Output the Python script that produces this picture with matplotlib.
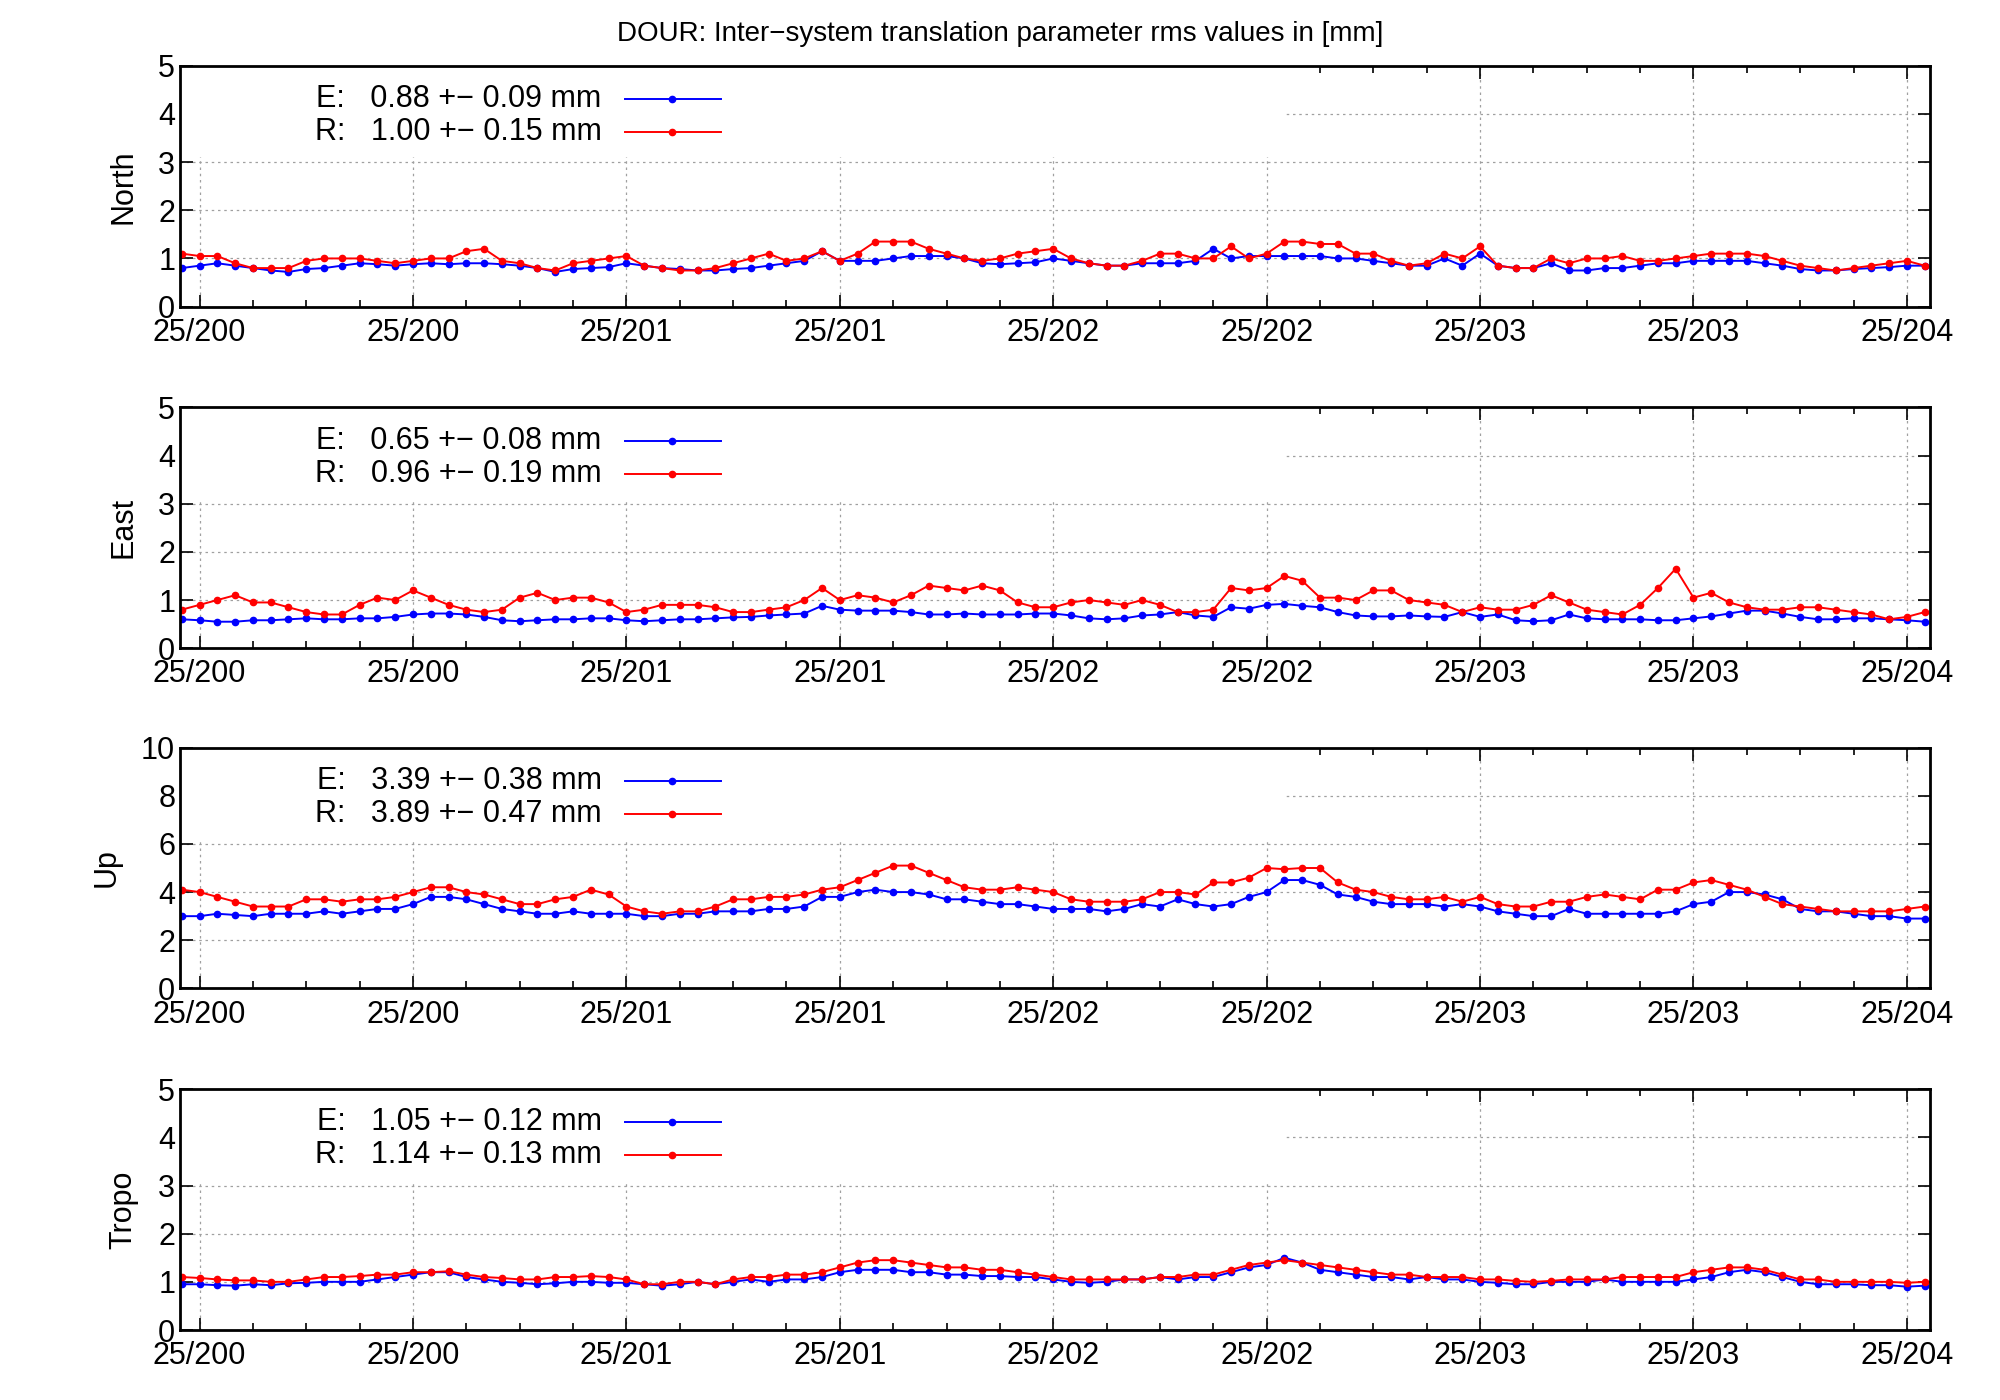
import matplotlib

matplotlib.use("Agg")
import matplotlib.pyplot as plt
import numpy as np
from matplotlib.patches import Rectangle

plt.rcParams["font.family"] = "Liberation Sans"

TITLE = "DOUR: Inter\u2212system translation parameter rms values in [mm]"
TICK_LABELS = ["25/200", "25/200", "25/201", "25/201", "25/202", "25/202", "25/203", "25/203", "25/204"]
PANELS = ["North", "East", "Up", "Tropo"]
YMAX = [5, 5, 10, 5]
STATS_E = ["0.88 +\u2212 0.09", "0.65 +\u2212 0.08", "3.39 +\u2212 0.38", "1.05 +\u2212 0.12"]
STATS_R = ["1.00 +\u2212 0.15", "0.96 +\u2212 0.19", "3.89 +\u2212 0.47", "1.14 +\u2212 0.13"]

north_e = [0.8, 0.85, 0.9, 0.85, 0.8, 0.75, 0.72, 0.78, 0.8, 0.85, 0.9, 0.88, 0.85,
           0.88, 0.9, 0.88, 0.9, 0.9, 0.88, 0.85, 0.8, 0.72, 0.78, 0.8, 0.82,
           0.9, 0.85, 0.8, 0.78, 0.75, 0.75, 0.78, 0.8, 0.85, 0.9, 0.95, 1.15,
           0.95, 0.95, 0.95, 1.0, 1.05, 1.05, 1.05, 1.0, 0.9, 0.88, 0.9, 0.92,
           1.0, 0.95, 0.9, 0.85, 0.85, 0.9, 0.9, 0.9, 0.95, 1.2, 1.0, 1.05,
           1.05, 1.05, 1.05, 1.05, 1.0, 1.0, 0.95, 0.9, 0.85, 0.85, 1.0, 0.85,
           1.1, 0.85, 0.8, 0.8, 0.9, 0.75, 0.75, 0.8, 0.8, 0.85, 0.9, 0.9,
           0.95, 0.95, 0.95, 0.95, 0.9, 0.85, 0.78, 0.75, 0.75, 0.78, 0.8, 0.82,
           0.85, 0.85]
north_r = [1.1, 1.05, 1.05, 0.9, 0.8, 0.8, 0.8, 0.95, 1.0, 1.0, 1.0, 0.95, 0.9,
           0.95, 1.0, 1.0, 1.15, 1.2, 0.95, 0.9, 0.8, 0.75, 0.9, 0.95, 1.0,
           1.05, 0.85, 0.8, 0.75, 0.75, 0.8, 0.9, 1.0, 1.1, 0.95, 1.0, 1.15,
           0.95, 1.1, 1.35, 1.35, 1.35, 1.2, 1.1, 1.0, 0.95, 1.0, 1.1, 1.15,
           1.2, 1.0, 0.9, 0.85, 0.85, 0.95, 1.1, 1.1, 1.0, 1.0, 1.25, 1.0,
           1.1, 1.35, 1.35, 1.3, 1.3, 1.1, 1.1, 0.95, 0.85, 0.9, 1.1, 1.0,
           1.25, 0.85, 0.8, 0.8, 1.0, 0.9, 1.0, 1.0, 1.05, 0.95, 0.95, 1.0,
           1.05, 1.1, 1.1, 1.1, 1.05, 0.95, 0.85, 0.8, 0.75, 0.8, 0.85, 0.9,
           0.95, 0.85]
east_e = [0.6, 0.58, 0.55, 0.55, 0.58, 0.58, 0.6, 0.62, 0.6, 0.6, 0.62, 0.62, 0.65,
          0.7, 0.72, 0.72, 0.7, 0.65, 0.58, 0.56, 0.58, 0.6, 0.6, 0.62, 0.62,
          0.58, 0.56, 0.58, 0.6, 0.6, 0.62, 0.64, 0.65, 0.68, 0.7, 0.72, 0.88,
          0.8, 0.78, 0.78, 0.78, 0.75, 0.7, 0.7, 0.72, 0.7, 0.7, 0.7, 0.72,
          0.72, 0.68, 0.62, 0.6, 0.62, 0.68, 0.7, 0.75, 0.68, 0.65, 0.85, 0.82,
          0.9, 0.92, 0.88, 0.85, 0.75, 0.68, 0.66, 0.66, 0.68, 0.66, 0.65, 0.75,
          0.65, 0.7, 0.58, 0.56, 0.58, 0.7, 0.62, 0.6, 0.6, 0.6, 0.58, 0.58,
          0.62, 0.66, 0.72, 0.78, 0.78, 0.72, 0.65, 0.6, 0.6, 0.62, 0.62, 0.6,
          0.58, 0.55]
east_r = [0.8, 0.9, 1.0, 1.1, 0.95, 0.95, 0.85, 0.75, 0.7, 0.7, 0.9, 1.05, 1.0,
          1.2, 1.05, 0.9, 0.8, 0.75, 0.8, 1.05, 1.15, 1.0, 1.05, 1.05, 0.95,
          0.75, 0.8, 0.9, 0.9, 0.9, 0.85, 0.75, 0.75, 0.8, 0.85, 1.0, 1.25,
          1.0, 1.1, 1.05, 0.95, 1.1, 1.3, 1.25, 1.2, 1.3, 1.2, 0.95, 0.85,
          0.85, 0.95, 1.0, 0.95, 0.9, 1.0, 0.9, 0.75, 0.75, 0.8, 1.25, 1.2,
          1.25, 1.5, 1.4, 1.05, 1.05, 1.0, 1.2, 1.2, 1.0, 0.95, 0.9, 0.75,
          0.85, 0.8, 0.8, 0.9, 1.1, 0.95, 0.8, 0.75, 0.7, 0.9, 1.25, 1.65,
          1.05, 1.15, 0.95, 0.85, 0.8, 0.8, 0.85, 0.85, 0.8, 0.75, 0.7, 0.6,
          0.65, 0.75]
up_e = [3.0, 3.0, 3.1, 3.05, 3.0, 3.1, 3.1, 3.1, 3.2, 3.1, 3.2, 3.3, 3.3,
        3.5, 3.8, 3.8, 3.7, 3.5, 3.3, 3.2, 3.1, 3.1, 3.2, 3.1, 3.1,
        3.1, 3.0, 3.0, 3.1, 3.1, 3.2, 3.2, 3.2, 3.3, 3.3, 3.4, 3.8,
        3.8, 4.0, 4.1, 4.0, 4.0, 3.9, 3.7, 3.7, 3.6, 3.5, 3.5, 3.4,
        3.3, 3.3, 3.3, 3.2, 3.3, 3.5, 3.4, 3.7, 3.5, 3.4, 3.5, 3.8,
        4.0, 4.5, 4.5, 4.3, 3.9, 3.8, 3.6, 3.5, 3.5, 3.5, 3.4, 3.5,
        3.4, 3.2, 3.1, 3.0, 3.0, 3.3, 3.1, 3.1, 3.1, 3.1, 3.1, 3.2,
        3.5, 3.6, 4.0, 4.0, 3.9, 3.7, 3.3, 3.2, 3.2, 3.1, 3.0, 3.0,
        2.9, 2.9]
up_r = [4.1, 4.0, 3.8, 3.6, 3.4, 3.4, 3.4, 3.7, 3.7, 3.6, 3.7, 3.7, 3.8,
        4.0, 4.2, 4.2, 4.0, 3.9, 3.7, 3.5, 3.5, 3.7, 3.8, 4.1, 3.9,
        3.4, 3.2, 3.1, 3.2, 3.2, 3.4, 3.7, 3.7, 3.8, 3.8, 3.9, 4.1,
        4.2, 4.5, 4.8, 5.1, 5.1, 4.8, 4.5, 4.2, 4.1, 4.1, 4.2, 4.1,
        4.0, 3.7, 3.6, 3.6, 3.6, 3.7, 4.0, 4.0, 3.9, 4.4, 4.4, 4.6,
        5.0, 4.95, 5.0, 5.0, 4.4, 4.1, 4.0, 3.8, 3.7, 3.7, 3.8, 3.6,
        3.8, 3.5, 3.4, 3.4, 3.6, 3.6, 3.8, 3.9, 3.8, 3.7, 4.1, 4.1,
        4.4, 4.5, 4.3, 4.1, 3.8, 3.5, 3.4, 3.3, 3.2, 3.2, 3.2, 3.2,
        3.3, 3.4]
tropo_e = [0.95, 0.95, 0.93, 0.92, 0.95, 0.93, 0.97, 0.98, 1.0, 1.0, 1.0, 1.05, 1.1,
           1.15, 1.2, 1.2, 1.1, 1.05, 1.0, 0.98, 0.95, 0.97, 1.0, 1.0, 0.98,
           0.98, 0.95, 0.92, 0.95, 1.0, 0.95, 1.0, 1.05, 1.0, 1.05, 1.05, 1.1,
           1.2, 1.25, 1.25, 1.25, 1.2, 1.2, 1.15, 1.15, 1.12, 1.12, 1.1, 1.1,
           1.05, 1.0, 0.98, 1.0, 1.05, 1.05, 1.1, 1.05, 1.1, 1.1, 1.2, 1.3,
           1.35, 1.5, 1.4, 1.25, 1.2, 1.15, 1.1, 1.1, 1.05, 1.1, 1.05, 1.05,
           1.0, 0.98, 0.95, 0.95, 1.0, 1.0, 1.0, 1.05, 1.0, 1.0, 1.0, 1.0,
           1.05, 1.1, 1.2, 1.25, 1.2, 1.1, 1.0, 0.95, 0.95, 0.95, 0.93, 0.93,
           0.9, 0.92]
tropo_r = [1.1, 1.08, 1.05, 1.03, 1.03, 1.0, 1.0, 1.05, 1.1, 1.1, 1.12, 1.15, 1.15,
           1.2, 1.2, 1.22, 1.15, 1.1, 1.08, 1.05, 1.05, 1.1, 1.1, 1.12, 1.1,
           1.05, 0.95, 0.95, 1.0, 1.0, 0.95, 1.05, 1.1, 1.1, 1.15, 1.15, 1.2,
           1.3, 1.4, 1.45, 1.45, 1.4, 1.35, 1.3, 1.3, 1.25, 1.25, 1.2, 1.15,
           1.1, 1.05, 1.05, 1.05, 1.05, 1.05, 1.1, 1.1, 1.15, 1.15, 1.25, 1.35,
           1.4, 1.45, 1.4, 1.35, 1.3, 1.25, 1.2, 1.15, 1.15, 1.1, 1.1, 1.1,
           1.05, 1.05, 1.02, 1.0, 1.02, 1.05, 1.05, 1.05, 1.1, 1.1, 1.1, 1.1,
           1.2, 1.25, 1.3, 1.3, 1.25, 1.15, 1.05, 1.05, 1.0, 1.0, 1.0, 1.0,
           0.98, 1.0]

SERIES = [(north_e, north_r), (east_e, east_r), (up_e, up_r), (tropo_e, tropo_r)]
BLUE = "#0000ff"
RED = "#ff0000"
FS = 22

fig = plt.figure(figsize=(20, 14), dpi=100)
fig.text(0.5, 0.976, TITLE, ha="center", va="center", fontsize=20)
tops = [0.953, 0.709, 0.466, 0.222]
height = 0.172

for i, name in enumerate(PANELS):
    ax = fig.add_axes([0.09, tops[i] - height, 0.875, height])
    ax.set_axisbelow(True)
    e_vals, r_vals = SERIES[i]
    xe = np.arange(len(e_vals))
    xr = np.arange(len(r_vals))
    ymax = YMAX[i]
    ax.set_xlim(-0.1, 98.3)
    ax.set_ylim(0, ymax)
    major = np.arange(1, 98, 12)
    ax.set_xticks(major)
    ax.set_xticklabels(TICK_LABELS)
    ax.set_xticks(np.arange(1, 98, 3), minor=True)
    ax.set_yticks(np.arange(0, ymax + 0.1, ymax / 5))
    ax.tick_params(which="both", direction="in", top=True, right=True, labelsize=FS, width=1.2)
    ax.tick_params(which="major", length=9)
    ax.tick_params(which="minor", length=5)
    ax.tick_params(axis="x", pad=8)
    ax.grid(True, which="major", color="#a0a0a0", linestyle=(0, (2, 3)), linewidth=0.9)
    for sp in ax.spines.values():
        sp.set_linewidth(2.0)
        sp.set_zorder(5)
    # legend key area hides the grid
    ax.add_patch(Rectangle((0, 0.62), 0.632, 0.38, transform=ax.transAxes,
                           facecolor="white", edgecolor="none", zorder=1.5))
    ax.plot(xe, e_vals, color=BLUE, marker="o", markersize=4.5, linewidth=1.4, zorder=3)
    ax.plot(xr, r_vals, color=RED, marker="o", markersize=4.5, linewidth=1.4, zorder=3)
    ax.set_ylabel(name, fontsize=FS, labelpad=14)

    for label, stat, col, yy in [("E:", STATS_E[i], BLUE, 0.862), ("R:", STATS_R[i], RED, 0.725)]:
        ax.text(0.241, yy, f"{label}   {stat} mm", transform=ax.transAxes, ha="right",
                va="center", fontsize=FS, zorder=4)
        ax.plot([0.254, 0.309], [yy, yy], transform=ax.transAxes, color=col, linewidth=1.4, zorder=4)
        ax.plot([0.281], [yy], transform=ax.transAxes, color=col, marker="o", markersize=4.5, zorder=4)

fig.savefig("out.png", dpi=100)
